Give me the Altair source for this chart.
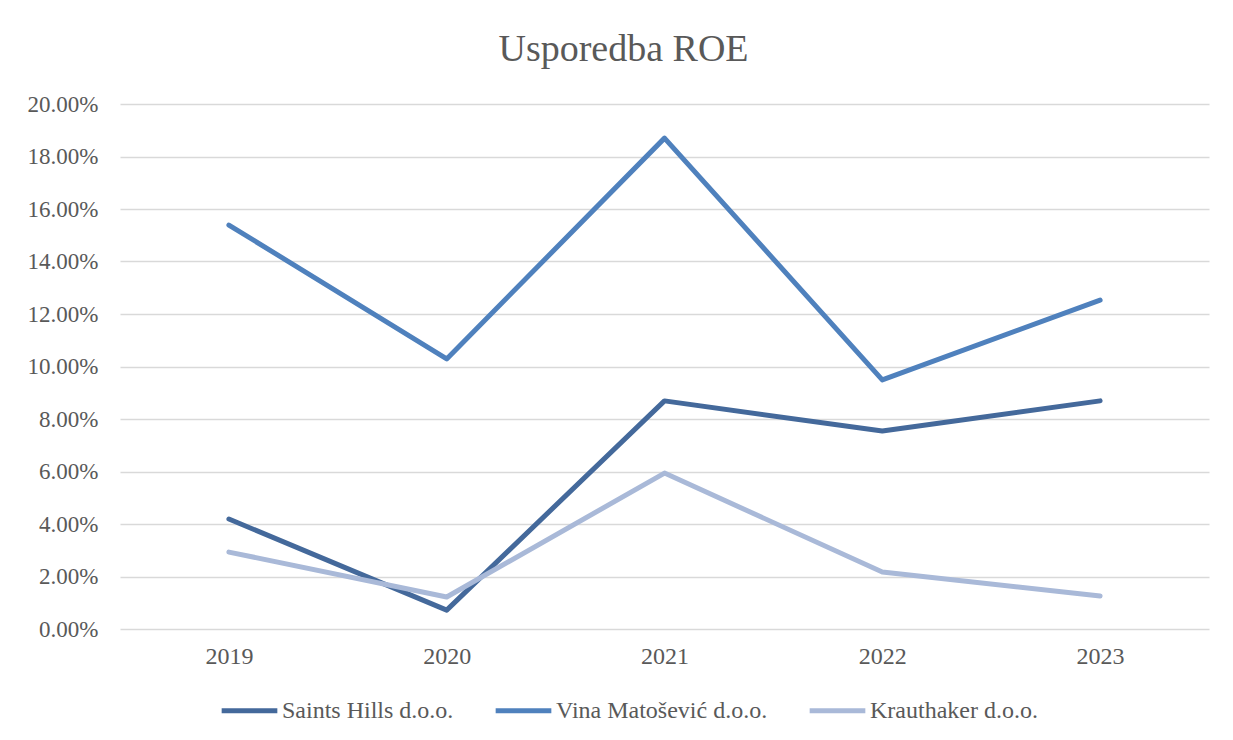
import altair as alt
import pandas as pd

years = ["2019", "2020", "2021", "2022", "2023"]
series_names = ["Saints Hills d.o.o.", "Vina Matošević d.o.o.", "Krauthaker d.o.o."]
saints_hills = [0.0419, 0.0072, 0.0869, 0.0754, 0.0869]
vina_matosevic = [0.1539, 0.1029, 0.1870, 0.0949, 0.1253]
krauthaker = [0.0293, 0.0122, 0.0594, 0.0217, 0.0126]
colors = ["#44699b", "#4f81bd", "#a9b9d8"]

rows = []
for name, vals in zip(series_names, [saints_hills, vina_matosevic, krauthaker]):
    for yr, v in zip(years, vals):
        rows.append({"Godina": yr, "Tvrtka": name, "ROE": v})
df = pd.DataFrame(rows)

FONT = "Liberation Serif"
TXT = "#595959"

chart = alt.Chart(df).mark_line(strokeWidth=5, strokeCap="round", strokeJoin="round").encode(
    x=alt.X("Godina:N", sort=years, title=None,
            scale=alt.Scale(type="point", padding=0.5),
            axis=alt.Axis(labelAngle=0, ticks=False, domain=False, grid=False,
                          labelFont=FONT, labelFontSize=24, labelColor=TXT, labelPadding=15)),
    y=alt.Y("ROE:Q", title=None,
            scale=alt.Scale(domain=[0, 0.2], nice=False),
            axis=alt.Axis(format=".2%", values=[i / 50 for i in range(11)], ticks=False, domain=False,
                          gridColor="#d9d9d9", gridWidth=1.5,
                          labelFont=FONT, labelFontSize=23, labelColor=TXT, labelPadding=22)),
    color=alt.Color("Tvrtka:N", sort=series_names,
                    scale=alt.Scale(domain=series_names, range=colors),
                    legend=alt.Legend(title=None, orient="none", direction="horizontal",
                                      legendX=99, legendY=576,
                                      symbolType="stroke", symbolStrokeWidth=5, symbolSize=3100,
                                      labelFont=FONT, labelFontSize=24, labelColor=TXT,
                                      labelLimit=0, labelOffset=2, columnPadding=31, symbolOffset=0)),
    detail="Tvrtka:N",
).properties(
    width=1089,
    height=525,
    title=alt.TitleParams("Usporedba ROE", font=FONT, fontSize=38, fontWeight="normal",
                          color=TXT, anchor="middle", dx=-41, offset=24),
    autosize=alt.AutoSizeParams(type="none"),
    padding={"left": 112, "top": 96, "right": 8, "bottom": 100},
).configure(background="white").configure_view(strokeWidth=0)

chart.save("out.html", embed_options={"renderer": "svg", "actions": False})
